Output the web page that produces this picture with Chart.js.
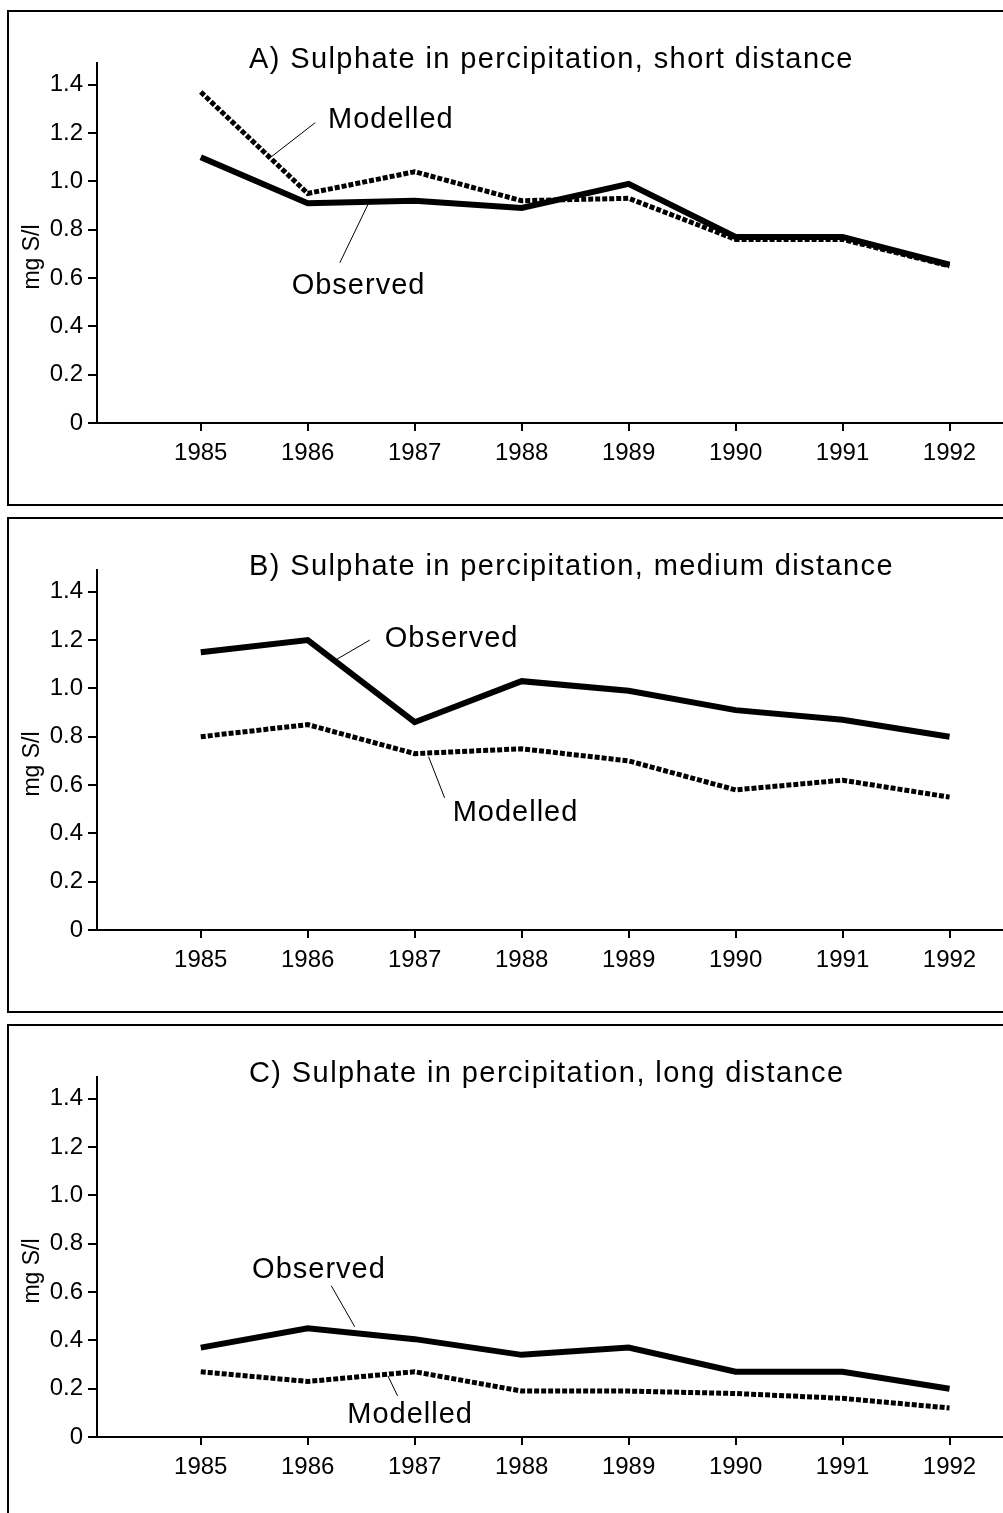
<!DOCTYPE html>
<html>
<head>
<meta charset="utf-8">
<script src="https://cdn.jsdelivr.net/npm/chart.js@4.4.0/dist/chart.umd.min.js"></script>
<style>
html, body { margin: 0; padding: 0; background: #fff; overflow: hidden; }
body { width: 1003px; height: 1513px; position: relative; }
.panel { position: absolute; left: 7px; width: 1100px; height: 492px; border: 2px solid #000; border-right: none; }
.panel canvas { position: absolute; left: 0; top: 0; }
</style>
</head>
<body>
<div class="panel" style="top:10px"><canvas id="chartA" width="994" height="492"></canvas></div>
<div class="panel" style="top:517px"><canvas id="chartB" width="994" height="492"></canvas></div>
<div class="panel" style="top:1024px"><canvas id="chartC" width="994" height="492"></canvas></div>
<script>
// data
var years = [1985, 1986, 1987, 1988, 1989, 1990, 1991, 1992];
var observedA = [1.10, 0.91, 0.92, 0.89, 0.99, 0.77, 0.77, 0.655];
var modelledA = [1.37, 0.95, 1.04, 0.92, 0.93, 0.76, 0.76, 0.65];
var observedB = [1.15, 1.20, 0.86, 1.03, 0.99, 0.91, 0.87, 0.80];
var modelledB = [0.80, 0.85, 0.73, 0.75, 0.70, 0.58, 0.62, 0.55];
var observedC = [0.37, 0.45, 0.405, 0.34, 0.37, 0.27, 0.27, 0.20];
var modelledC = [0.27, 0.23, 0.27, 0.19, 0.19, 0.18, 0.16, 0.12];
var yTickLabels = ['0', '0.2', '0.4', '0.6', '0.8', '1.0', '1.2', '1.4'];
var titles = [
    'A) Sulphate in percipitation, short distance',
    'B) Sulphate in percipitation, medium distance',
    'C) Sulphate in percipitation, long distance'
];
var yLabel = 'mg S/l';

var FONT = '"Liberation Sans", Arial, sans-serif';

// label text (baseline-left) and leader line, in data units
var notesA = [
    { text: 'Modelled', x: 1986.19, y: 1.222, from: [1986.07, 1.243], to: [1985.66, 1.102] },
    { text: 'Observed', x: 1985.85, y: 0.534, from: [1986.57, 0.911], to: [1986.30, 0.663] }
];
var notesB = [
    { text: 'Observed', x: 1986.72, y: 1.172, from: [1986.58, 1.20], to: [1986.27, 1.12] },
    { text: 'Modelled', x: 1987.355, y: 0.452, from: [1987.13, 0.717], to: [1987.28, 0.547] }
];
var notesC = [
    { text: 'Observed', x: 1985.48, y: 0.659, from: [1986.22, 0.626], to: [1986.44, 0.456] },
    { text: 'Modelled', x: 1986.37, y: 0.058, from: [1986.75, 0.253], to: [1986.84, 0.17] }
];

var panelText = {
    id: 'panelText',
    afterDraw: function (chart, args, opts) {
        var ctx = chart.ctx;
        var area = chart.chartArea;
        var xs = chart.scales.x, ys = chart.scales.y;
        ctx.save();
        ctx.fillStyle = '#000';
        ctx.strokeStyle = '#000';

        // title
        ctx.font = '29px ' + FONT;
        ctx.letterSpacing = '1.4px';
        ctx.textAlign = 'left';
        ctx.textBaseline = 'alphabetic';
        ctx.fillText(opts.title, area.left + 152, area.top + 5);

        // leader lines and labels
        ctx.letterSpacing = '1px';
        ctx.lineWidth = 1;
        opts.notes.forEach(function (n) {
            ctx.beginPath();
            ctx.moveTo(xs.getPixelForValue(n.from[0]), ys.getPixelForValue(n.from[1]));
            ctx.lineTo(xs.getPixelForValue(n.to[0]), ys.getPixelForValue(n.to[1]));
            ctx.stroke();
            ctx.fillText(n.text, xs.getPixelForValue(n.x), ys.getPixelForValue(n.y));
        });

        // y axis label
        ctx.letterSpacing = '0px';
        ctx.font = '23px ' + FONT;
        ctx.translate(area.left - 64, (area.top + area.bottom) / 2 + 14);
        ctx.rotate(-Math.PI / 2);
        ctx.textAlign = 'center';
        ctx.textBaseline = 'middle';
        ctx.fillText(yLabel, 0, 0);
        ctx.restore();
    }
};

function points(values) {
    return years.map(function (yr, i) { return { x: yr, y: values[i] }; });
}

function makeChart(id, observed, modelled, title, notes) {
    return new Chart(document.getElementById(id), {
        type: 'line',
        data: {
            datasets: [
                {
                    label: 'Modelled',
                    data: points(modelled),
                    borderColor: '#000',
                    borderWidth: 5,
                    borderDash: [5, 2],
                    borderCapStyle: 'butt',
                    pointRadius: 0,
                    tension: 0,
                    fill: false
                },
                {
                    label: 'Observed',
                    data: points(observed),
                    borderColor: '#000',
                    borderWidth: 6,
                    pointRadius: 0,
                    tension: 0,
                    fill: false
                }
            ]
        },
        options: {
            responsive: false,
            animation: false,
            events: [],
            layout: { padding: { top: 51, left: 0, right: 0, bottom: 0 } },
            plugins: {
                legend: { display: false },
                tooltip: { enabled: false },
                panelText: { title: title, notes: notes }
            },
            scales: {
                x: {
                    type: 'linear',
                    min: 1984.03,
                    max: 1992.5,
                    afterFit: function (s) { s.height = 81; },
                    border: { display: true, color: '#000', width: 2 },
                    grid: { drawOnChartArea: false, drawTicks: true, tickLength: 8, color: '#000', lineWidth: 2 },
                    ticks: {
                        stepSize: 1,
                        includeBounds: false,
                        autoSkip: false,
                        maxRotation: 0,
                        padding: 8,
                        color: '#000',
                        font: { size: 24, family: FONT },
                        callback: function (v) { return String(v); }
                    }
                },
                y: {
                    min: 0,
                    max: 1.49,
                    afterFit: function (s) { s.width = 88; },
                    border: { display: true, color: '#000', width: 2 },
                    grid: { drawOnChartArea: false, drawTicks: true, tickLength: 9, color: '#000', lineWidth: 2 },
                    ticks: {
                        stepSize: 0.2,
                        includeBounds: false,
                        padding: 5,
                        color: '#000',
                        font: { size: 24, family: FONT },
                        callback: function (v, i) { return yTickLabels[i]; }
                    }
                }
            }
        },
        plugins: [panelText]
    });
}

makeChart('chartA', observedA, modelledA, titles[0], notesA);
makeChart('chartB', observedB, modelledB, titles[1], notesB);
makeChart('chartC', observedC, modelledC, titles[2], notesC);
</script>
</body>
</html>
